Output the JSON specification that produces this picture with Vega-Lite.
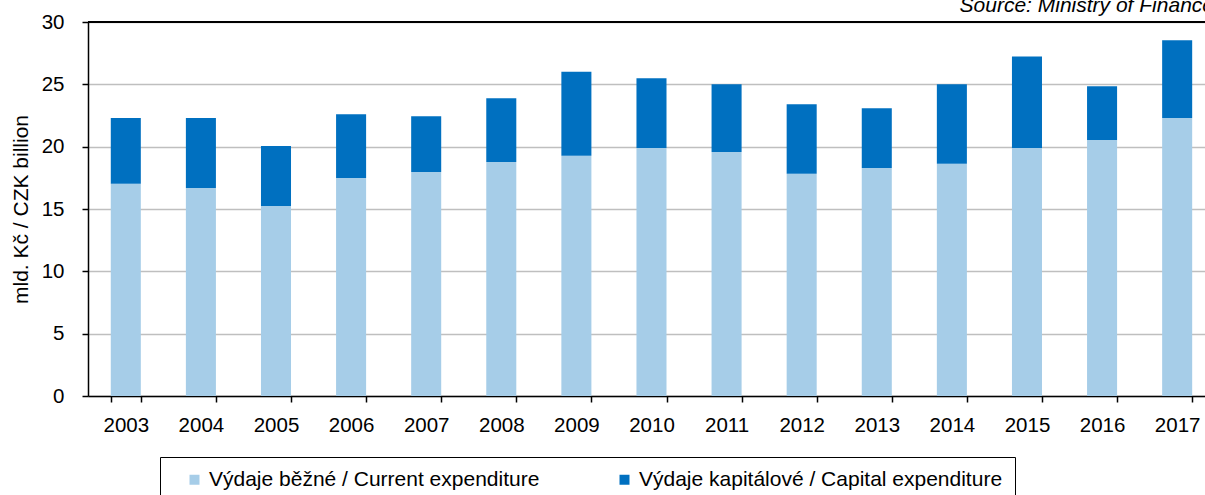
{
  "$schema": "https://vega.github.io/schema/vega-lite/v6.json",
  "width": 1117,
  "height": 374,
  "autosize": "none",
  "padding": {"left": 88, "top": 22, "right": 0, "bottom": 99},
  "background": "white",
  "title": {
    "text": "Source: Ministry of Finance",
    "anchor": "end",
    "orient": "top",
    "frame": "group",
    "font": "Liberation Sans",
    "fontStyle": "italic",
    "fontWeight": "normal",
    "fontSize": 21,
    "color": "black",
    "baseline": "alphabetic",
    "offset": 0,
    "dy": 21,
    "dx": 9
  },
  "data": {
    "values": [
      {"year": "2003", "type": "Výdaje běžné / Current expenditure", "value": 17.03},
      {"year": "2003", "type": "Výdaje kapitálové / Capital expenditure", "value": 5.27},
      {"year": "2004", "type": "Výdaje běžné / Current expenditure", "value": 16.68},
      {"year": "2004", "type": "Výdaje kapitálové / Capital expenditure", "value": 5.62},
      {"year": "2005", "type": "Výdaje běžné / Current expenditure", "value": 15.24},
      {"year": "2005", "type": "Výdaje kapitálové / Capital expenditure", "value": 4.82},
      {"year": "2006", "type": "Výdaje běžné / Current expenditure", "value": 17.49},
      {"year": "2006", "type": "Výdaje kapitálové / Capital expenditure", "value": 5.11},
      {"year": "2007", "type": "Výdaje běžné / Current expenditure", "value": 17.97},
      {"year": "2007", "type": "Výdaje kapitálové / Capital expenditure", "value": 4.46},
      {"year": "2008", "type": "Výdaje běžné / Current expenditure", "value": 18.77},
      {"year": "2008", "type": "Výdaje kapitálové / Capital expenditure", "value": 5.11},
      {"year": "2009", "type": "Výdaje běžné / Current expenditure", "value": 19.28},
      {"year": "2009", "type": "Výdaje kapitálové / Capital expenditure", "value": 6.72},
      {"year": "2010", "type": "Výdaje běžné / Current expenditure", "value": 19.9},
      {"year": "2010", "type": "Výdaje kapitálové / Capital expenditure", "value": 5.59},
      {"year": "2011", "type": "Výdaje běžné / Current expenditure", "value": 19.57},
      {"year": "2011", "type": "Výdaje kapitálové / Capital expenditure", "value": 5.43},
      {"year": "2012", "type": "Výdaje běžné / Current expenditure", "value": 17.83},
      {"year": "2012", "type": "Výdaje kapitálové / Capital expenditure", "value": 5.57},
      {"year": "2013", "type": "Výdaje běžné / Current expenditure", "value": 18.29},
      {"year": "2013", "type": "Výdaje kapitálové / Capital expenditure", "value": 4.79},
      {"year": "2014", "type": "Výdaje běžné / Current expenditure", "value": 18.63},
      {"year": "2014", "type": "Výdaje kapitálové / Capital expenditure", "value": 6.37},
      {"year": "2015", "type": "Výdaje běžné / Current expenditure", "value": 19.9},
      {"year": "2015", "type": "Výdaje kapitálové / Capital expenditure", "value": 7.33},
      {"year": "2016", "type": "Výdaje běžné / Current expenditure", "value": 20.53},
      {"year": "2016", "type": "Výdaje kapitálové / Capital expenditure", "value": 4.32},
      {"year": "2017", "type": "Výdaje běžné / Current expenditure", "value": 22.3},
      {"year": "2017", "type": "Výdaje kapitálové / Capital expenditure", "value": 6.24}
    ]
  },
  "layer": [
    {
      "mark": {"type": "bar"},
      "encoding": {
        "x": {
          "field": "year",
          "type": "ordinal",
          "scale": {"paddingInner": 0.6, "paddingOuter": 0.237, "align": 0.64},
          "axis": {
            "title": null,
            "labelAngle": 0,
            "tickBand": "extent",
            "grid": false,
            "domainColor": "black",
            "domainWidth": 1.5,
            "tickColor": "black",
            "tickWidth": 1.5,
            "tickSize": 6,
            "labelFont": "Liberation Sans",
            "labelFontSize": 20.5,
            "labelColor": "black",
            "labelPadding": 13
          }
        },
        "y": {
          "field": "value",
          "type": "quantitative",
          "stack": "zero",
          "scale": {"domain": [0, 30], "nice": false},
          "axis": {
            "title": "mld. Kč / CZK billion",
            "values": [0, 5, 10, 15, 20, 25, 30],
            "grid": true,
            "gridColor": "#bfbfbf",
            "gridWidth": 1.5,
            "domainColor": "black",
            "domainWidth": 1.5,
            "tickColor": "black",
            "tickWidth": 1.5,
            "tickSize": 6,
            "labelFont": "Liberation Sans",
            "labelFontSize": 20.5,
            "labelColor": "black",
            "labelPadding": 18,
            "titleFont": "Liberation Sans",
            "titleFontSize": 21,
            "titleFontWeight": "normal",
            "titleColor": "black",
            "titlePadding": 10
          }
        },
        "color": {
          "field": "type",
          "type": "nominal",
          "scale": {
            "domain": ["Výdaje běžné / Current expenditure", "Výdaje kapitálové / Capital expenditure"],
            "range": ["#a6cde8", "#0070c0"]
          },
          "legend": {
            "title": null,
            "orient": "none",
            "legendX": 72,
            "legendY": 435,
            "direction": "horizontal",
            "strokeColor": "black",
            "fillColor": "white",
            "padding": 12,
            "symbolType": "square",
            "symbolSize": 100,
            "symbolStrokeWidth": 0,
            "symbolOffset": 12,
            "labelOffset": 4,
            "labelFont": "Liberation Sans",
            "labelFontSize": 21,
            "labelColor": "black",
            "labelLimit": 500,
            "columnPadding": 62
          }
        },
        "order": {"field": "type", "sort": "ascending"}
      }
    },
    {
      "mark": {"type": "rule", "color": "black", "strokeWidth": 2},
      "encoding": {"y": {"datum": 30}}
    }
  ],
  "config": {
    "view": {"stroke": null},
    "font": "Liberation Sans"
  }
}
